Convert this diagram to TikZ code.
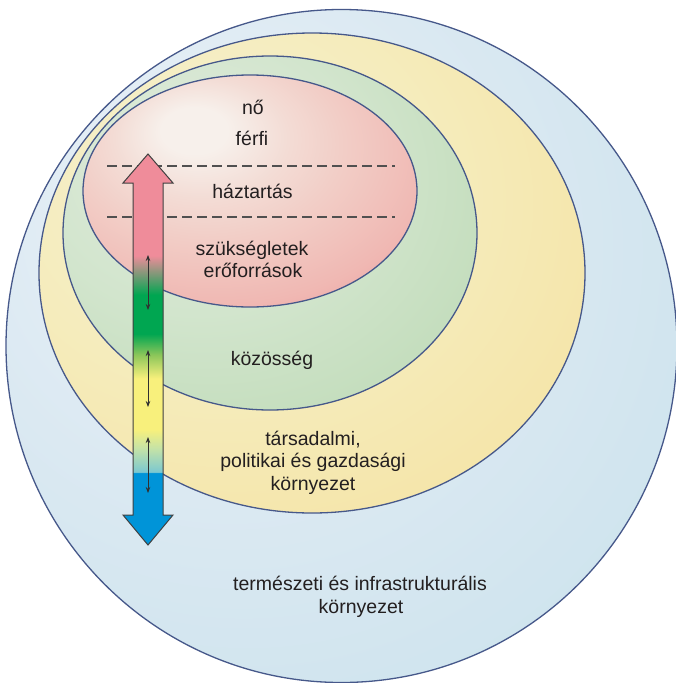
\documentclass[tikz,border=0pt]{standalone}
\usepackage{fontspec}
\setmainfont{Liberation Sans}
\usetikzlibrary{arrows.meta,calc}

% ring outlines and lettering
\definecolor{rimblue}{HTML}{46588A}
\definecolor{inktext}{HTML}{231F20}
\definecolor{dashgray}{HTML}{505050}
\definecolor{arrline}{HTML}{404040}
\definecolor{tickgray}{HTML}{303030}

% ring fills: light centre, deeper rim
\definecolor{skyA}{HTML}{EBF2F8}\definecolor{skyB}{HTML}{DBE9F2}
\definecolor{skyC}{HTML}{CFE4EE}\definecolor{skyD}{HTML}{B6DAE9}
\definecolor{sunA}{HTML}{F5F0CF}\definecolor{sunB}{HTML}{F5ECBC}
\definecolor{sunC}{HTML}{F5E5A9}\definecolor{sunD}{HTML}{F6DA8D}
\definecolor{leafA}{HTML}{E0EBDD}\definecolor{leafB}{HTML}{D2E5CD}
\definecolor{leafC}{HTML}{C3DDBC}\definecolor{leafD}{HTML}{ABD09E}
\definecolor{roseA}{HTML}{F7F0EB}\definecolor{roseB}{HTML}{F3DCD5}
\definecolor{roseC}{HTML}{F2CEC7}\definecolor{roseD}{HTML}{F0B8B3}
\definecolor{roseE}{HTML}{EA9A9B}\definecolor{roseF}{HTML}{E89093}

% colours of the double arrow
\definecolor{arrblue}{HTML}{0094D8}
\definecolor{arrteal}{HTML}{7CC8D0}
\definecolor{arrmint}{HTML}{C6E3A6}
\definecolor{arryellow}{HTML}{F8F07C}
\definecolor{arrlime}{HTML}{8CC65A}
\definecolor{arrgreen}{HTML}{00A651}
\definecolor{arrpink}{HTML}{EF8C9A}

\pgfdeclareradialshading{skyglow}{\pgfpoint{-12bp}{12bp}}{color(0bp)=(skyA); color(20bp)=(skyB); color(35bp)=(skyC); color(42bp)=(skyD); color(70bp)=(skyD)}
\pgfdeclareradialshading{sunglow}{\pgfpoint{-12bp}{12bp}}{color(0bp)=(sunA); color(20bp)=(sunB); color(35bp)=(sunC); color(42bp)=(sunD); color(70bp)=(sunD)}
\pgfdeclareradialshading{leafglow}{\pgfpoint{-12bp}{12bp}}{color(0bp)=(leafA); color(20bp)=(leafB); color(35bp)=(leafC); color(42bp)=(leafD); color(70bp)=(leafD)}
\pgfdeclareradialshading{roseglow}{\pgfpoint{-9bp}{14bp}}{color(0bp)=(roseA); color(5bp)=(roseA); color(13bp)=(roseB); color(20bp)=(roseC); color(32bp)=(roseD); color(42bp)=(roseE); color(70bp)=(roseF)}
\pgfdeclareverticalshading{spectrum}{100bp}{color(0bp)=(arrblue); color(34.2bp)=(arrblue); color(34.35bp)=(arrteal); color(37.4bp)=(arrmint); color(39.8bp)=(arryellow); color(46.3bp)=(arryellow); color(49.3bp)=(arrlime); color(52bp)=(arrgreen); color(57bp)=(arrgreen); color(62bp)=(arrpink); color(100bp)=(arrpink)}

\tikzset{
  ring/.style={draw=rimblue, line width=1.3pt},
  txt/.style={font=\fontsize{19.5}{22}\selectfont, text=inktext, anchor=base, inner sep=0pt},
  dashrule/.style={draw=dashgray, line width=1.3pt, dash pattern=on 9.5pt off 5.5pt},
  tick/.style={draw=tickgray, line width=0.8pt, {Stealth[length=6pt,width=4.5pt]}-{Stealth[length=6pt,width=4.5pt]}}
}

\begin{document}
\begin{tikzpicture}[x=1pt, y=-1pt]
\useasboundingbox (0,0) rectangle (676,683);

% nested rings, outermost first
\path[ring, shading=skyglow]  (341.5,346) ellipse [x radius=335.5pt, y radius=336.5pt];
\path[ring, shading=sunglow]  (312,273)   ellipse [x radius=273pt, y radius=240pt];
\path[ring, shading=leafglow] (270,233)   ellipse [x radius=207pt, y radius=177pt];
\path[ring, shading=roseglow] (250,191)   ellipse [x radius=167pt, y radius=116pt];

% separators inside the innermost ring
\coordinate (d1a) at (107,166); \coordinate (d1b) at (395,166);
\coordinate (d2a) at (107,217); \coordinate (d2b) at (395,217);
\draw[dashrule] (d1a) -- (d1b);
\draw[dashrule] (d2a) -- (d2b);

% labels
\node[txt] (t1)  at (253,114) {nő};
\node[txt] (t2)  at (252,145) {férfi};
\node[txt] (t3)  at (252.5,198) {háztartás};
\node[txt] (t4)  at (252,255) {szükségletek};
\node[txt] (t5)  at (253,277) {erőforrások};
\node[txt] (t6)  at (272,365) {közösség};
\node[txt] (t7)  at (313,445) {társadalmi,};
\node[txt] (t8)  at (313,467) {politikai és gazdasági};
\node[txt] (t9)  at (313,490) {környezet};
\node[txt] (t10) at (360,590) {természeti és infrastrukturális};
\node[txt] (t11) at (361,613) {környezet};

% vertical double arrow with colour bands
\coordinate (arrTop) at (148,154);
\coordinate (arrBot) at (148,545);
\path[draw=arrline, line width=1pt, shading=spectrum]
  (arrTop) -- ($(arrTop)+(25,29)$) -- ($(arrTop)+(15,29)$)
  -- ($(arrBot)+(15,-30)$) -- ($(arrBot)+(25,-30)$) -- (arrBot)
  -- ($(arrBot)+(-25,-30)$) -- ($(arrBot)+(-15,-30)$)
  -- ($(arrTop)+(-15,29)$) -- ($(arrTop)+(-25,29)$) -- cycle;

% small two-way arrows inside the shaft
\coordinate (s1a) at (148,255); \coordinate (s1b) at (148,310);
\coordinate (s2a) at (148,350); \coordinate (s2b) at (148,407);
\coordinate (s3a) at (148,437); \coordinate (s3b) at (148,493);
\draw[tick] (s1a) -- (s1b);
\draw[tick] (s2a) -- (s2b);
\draw[tick] (s3a) -- (s3b);
\end{tikzpicture}
\end{document}
